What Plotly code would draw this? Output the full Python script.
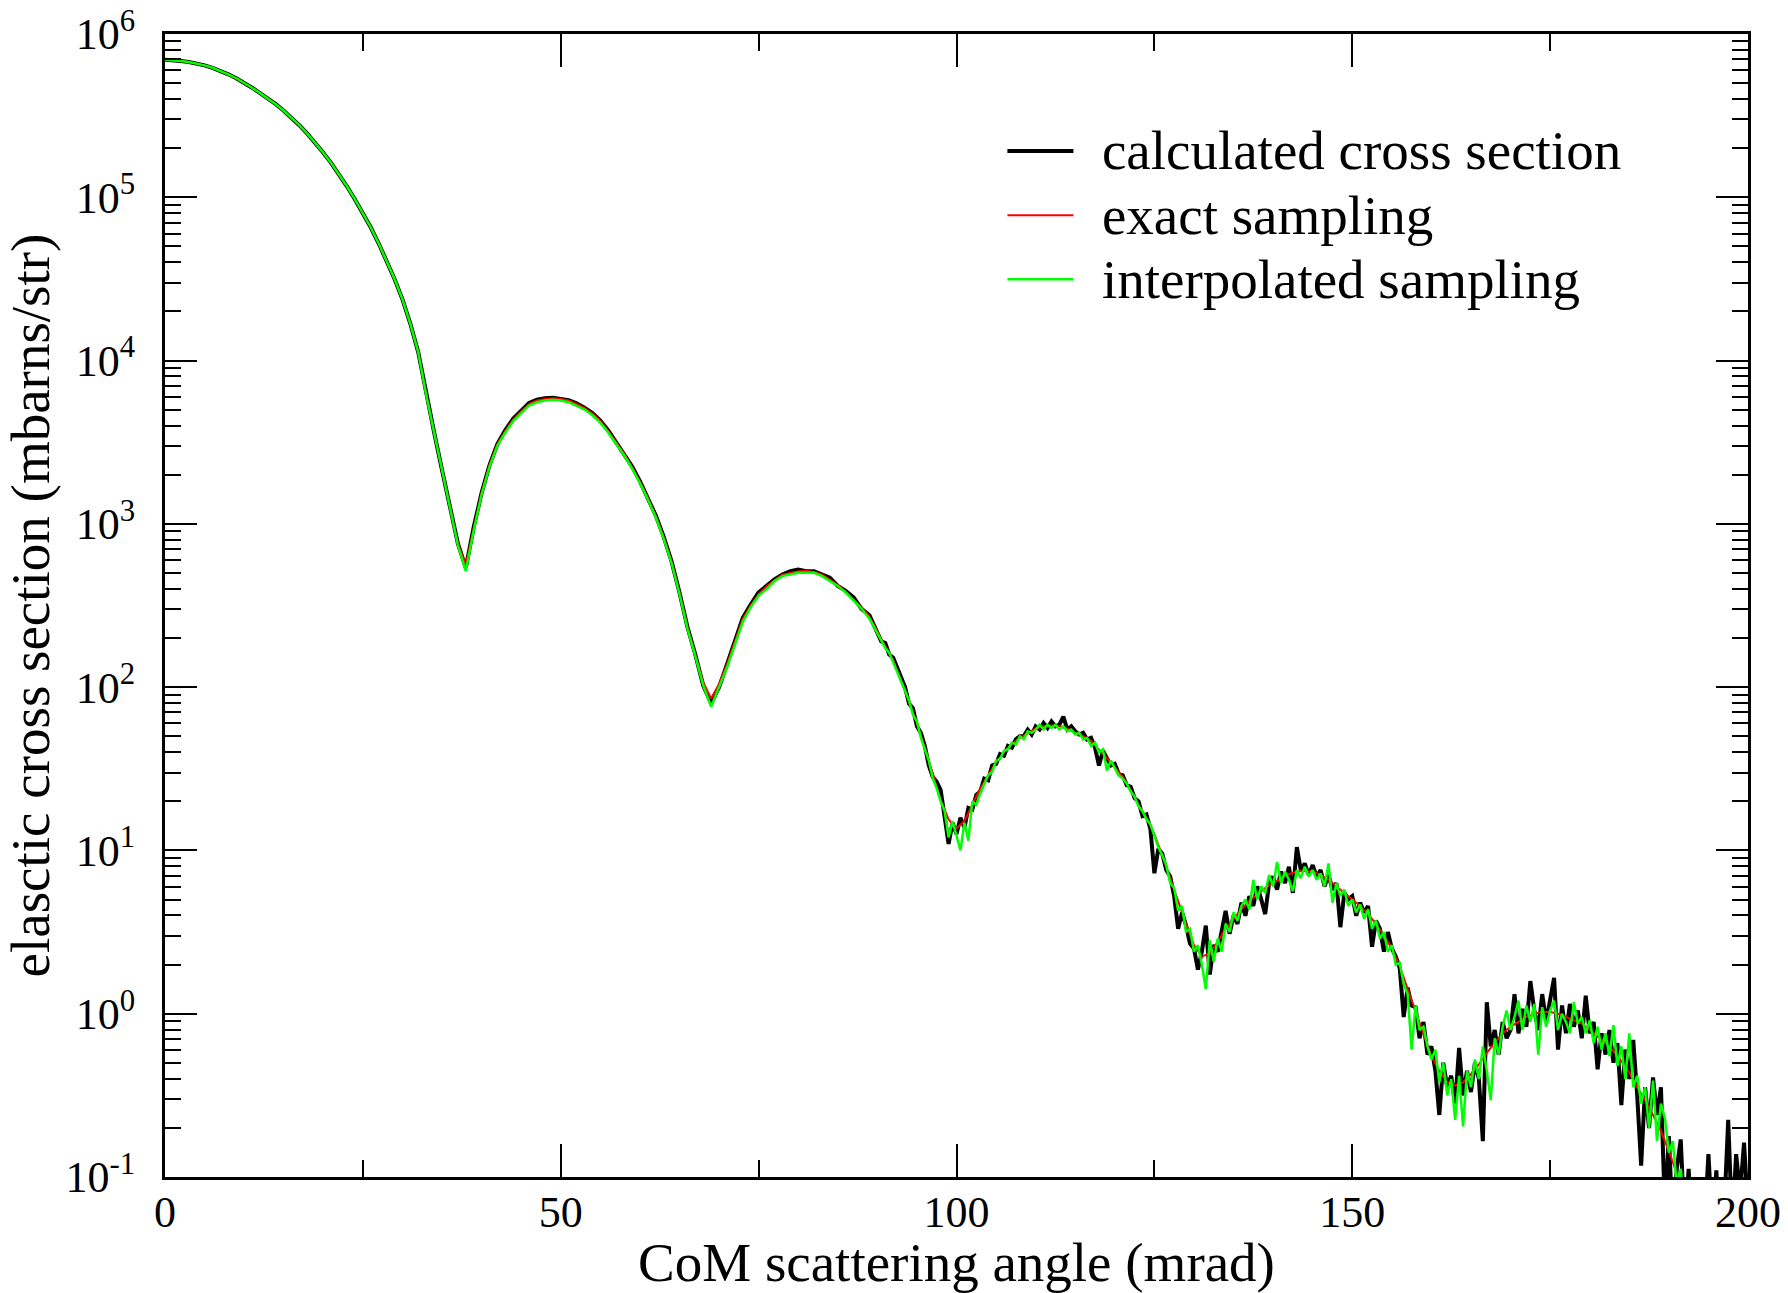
import numpy as np
import plotly.graph_objects as go

# ---------------- data (log10 of cross section, mbarns/str) ----------------
# x positions (mrad)
x_exact = list(range(0, 193))
x_calc = list(range(0, 90)) + [90 + 0.5 * i for i in range(221)]
x_interp = list(range(0, 90)) + [90 + 0.5 * i for i in range(205)]

exact_log10 = [
    5.842, 5.840, 5.835, 5.828, 5.820, 5.808, 5.793, 5.775, 5.753, 5.729,
    5.702, 5.671, 5.638, 5.605, 5.570, 5.530, 5.488, 5.440, 5.388, 5.333,
    5.273, 5.209, 5.140, 5.066, 4.987, 4.905, 4.815, 4.717, 4.612, 4.500,
    4.375, 4.225, 4.050, 3.790, 3.560, 3.330, 3.110, 2.880, 2.750, 2.980,
    3.190, 3.360, 3.490, 3.570, 3.640, 3.690, 3.735, 3.755, 3.765, 3.769,
    3.765, 3.755, 3.735, 3.710, 3.675, 3.630, 3.570, 3.500, 3.430, 3.350,
    3.260, 3.160, 3.050, 2.920, 2.770, 2.580, 2.370, 2.200, 2.030, 1.930,
    2.020, 2.140, 2.280, 2.420, 2.500, 2.570, 2.616, 2.655, 2.688, 2.700,
    2.710, 2.712, 2.705, 2.690, 2.660, 2.625, 2.585, 2.540, 2.490, 2.430,
    2.335, 2.250, 2.167, 2.040, 1.910, 1.780, 1.630, 1.470, 1.310, 1.190,
    1.135, 1.180, 1.280, 1.380, 1.460, 1.540, 1.600, 1.650, 1.690, 1.720,
    1.745, 1.760, 1.765, 1.760, 1.745, 1.720, 1.700, 1.670, 1.620, 1.565,
    1.510, 1.450, 1.370, 1.280, 1.200, 1.100, 0.970, 0.830, 0.680, 0.550,
    0.420, 0.350, 0.370, 0.440, 0.520, 0.580, 0.640, 0.690, 0.730, 0.770,
    0.800, 0.830, 0.855, 0.870, 0.875, 0.870, 0.850, 0.820, 0.780, 0.740,
    0.700, 0.660, 0.610, 0.550, 0.480, 0.400, 0.290, 0.150, 0.020, -0.120,
    -0.260, -0.350, -0.420, -0.440, -0.420, -0.370, -0.310, -0.240, -0.180, -0.120,
    -0.080, -0.050, -0.020, 0.000, 0.010, 0.010, 0.000, -0.020, -0.040, -0.060,
    -0.100, -0.140, -0.180, -0.230, -0.290, -0.360, -0.450, -0.530, -0.620, -0.720,
    -0.840, -0.980, -1.120,
]

calc_log10 = [
    5.842, 5.840, 5.835, 5.828, 5.820, 5.808, 5.793, 5.775, 5.753, 5.729,
    5.702, 5.671, 5.638, 5.605, 5.570, 5.530, 5.488, 5.440, 5.388, 5.333,
    5.273, 5.209, 5.140, 5.066, 4.987, 4.905, 4.815, 4.717, 4.612, 4.500,
    4.375, 4.225, 4.050, 3.790, 3.560, 3.330, 3.110, 2.880, 2.730, 2.980,
    3.190, 3.360, 3.490, 3.575, 3.645, 3.695, 3.740, 3.760, 3.770, 3.772,
    3.768, 3.758, 3.738, 3.712, 3.678, 3.632, 3.572, 3.502, 3.432, 3.352,
    3.262, 3.162, 3.052, 2.922, 2.770, 2.580, 2.370, 2.200, 2.010, 1.900,
    2.000, 2.140, 2.290, 2.425, 2.505, 2.580, 2.620, 2.660, 2.690, 2.710,
    2.720, 2.710, 2.710, 2.690, 2.670, 2.620, 2.590, 2.550, 2.480, 2.440,
    # 90 .. 200 every 0.5 mrad
    2.34, 2.28, 2.27, 2.20, 2.18, 2.12, 2.06, 2.00, 1.90, 1.87,
    1.76, 1.72, 1.64, 1.52, 1.45, 1.42, 1.37, 1.22, 1.04, 1.17,
    1.10, 1.20, 1.14, 1.26, 1.25, 1.34, 1.36, 1.44, 1.43, 1.52,
    1.53, 1.59, 1.58, 1.64, 1.63, 1.68, 1.70, 1.70, 1.74, 1.71,
    1.76, 1.74, 1.78, 1.75, 1.79, 1.76, 1.77, 1.82, 1.74, 1.76,
    1.73, 1.71, 1.72, 1.68, 1.69, 1.63, 1.52, 1.61, 1.57, 1.52,
    1.53, 1.47, 1.46, 1.40, 1.39, 1.32, 1.30, 1.21, 1.22, 1.13,
    0.86, 1.01, 0.98, 0.88, 0.84, 0.72, 0.52, 0.62, 0.54, 0.43,
    0.40, 0.27, 0.38, 0.54, 0.24, 0.42, 0.38, 0.50, 0.63, 0.49,
    0.60, 0.55, 0.68, 0.60, 0.72, 0.66, 0.78, 0.70, 0.61, 0.80,
    0.84, 0.76, 0.87, 0.80, 0.90, 0.74, 1.02, 0.88, 0.92, 0.85,
    0.91, 0.84, 0.88, 0.78, 0.85, 0.76, 0.80, 0.53, 0.74, 0.70,
    0.72, 0.60, 0.68, 0.62, 0.66, 0.41, 0.57, 0.52, 0.38, 0.50,
    0.40, 0.35, 0.28, -0.02, 0.16, 0.05, 0.04, -0.15, -0.05, -0.25,
    -0.20, -0.35, -0.62, -0.30, -0.45, -0.38, -0.55, -0.21, -0.50, -0.35,
    -0.48, -0.30, -0.40, -0.78, 0.07, -0.20, -0.10, -0.25, -0.05, -0.15,
    -0.10, 0.12, -0.12, 0.03, -0.08, 0.20, 0.02, -0.10, 0.12, -0.05,
    0.08, 0.22, -0.22, 0.05, -0.12, 0.06, -0.08, 0.02, -0.15, 0.11,
    -0.12, -0.05, -0.34, -0.12, -0.25, -0.10, -0.30, -0.18, -0.56, -0.22,
    -0.40, -0.16, -0.50, -0.93, -0.45, -0.70, -0.39, -0.62, -0.45, -1.20,
    -0.75, -1.30, -0.95, -0.77, -1.30, -0.95, -1.40, -1.30, -1.40, -1.30,
    -0.86, -1.30, -0.96, -1.40, -1.20, -0.65, -1.30, -0.86, -1.10, -0.79,
    -1.20,
]

interp_log10 = [
    5.842, 5.840, 5.835, 5.828, 5.820, 5.808, 5.793, 5.775, 5.753, 5.729,
    5.702, 5.671, 5.638, 5.605, 5.570, 5.530, 5.488, 5.440, 5.388, 5.333,
    5.273, 5.209, 5.140, 5.066, 4.987, 4.905, 4.815, 4.717, 4.612, 4.500,
    4.375, 4.225, 4.050, 3.790, 3.560, 3.330, 3.110, 2.870, 2.710, 2.960,
    3.180, 3.350, 3.480, 3.560, 3.630, 3.680, 3.725, 3.745, 3.755, 3.760,
    3.755, 3.745, 3.725, 3.700, 3.665, 3.620, 3.560, 3.490, 3.420, 3.340,
    3.250, 3.150, 3.040, 2.910, 2.760, 2.570, 2.360, 2.190, 2.010, 1.880,
    2.000, 2.120, 2.260, 2.400, 2.490, 2.560, 2.600, 2.650, 2.680, 2.690,
    2.700, 2.700, 2.700, 2.680, 2.650, 2.620, 2.580, 2.530, 2.480, 2.420,
    # 90 .. 192 every 0.5 mrad
    2.33, 2.29, 2.24, 2.21, 2.15, 2.10, 2.03, 1.98, 1.92, 1.83,
    1.79, 1.69, 1.62, 1.55, 1.44, 1.38, 1.30, 1.24, 1.08, 1.18,
    1.09, 1.00, 1.17, 1.06, 1.30, 1.28, 1.35, 1.41, 1.46, 1.48,
    1.55, 1.56, 1.61, 1.62, 1.66, 1.65, 1.70, 1.68, 1.73, 1.72,
    1.74, 1.77, 1.74, 1.77, 1.75, 1.77, 1.74, 1.76, 1.73, 1.74,
    1.71, 1.72, 1.68, 1.69, 1.64, 1.66, 1.60, 1.62, 1.49, 1.55,
    1.50, 1.46, 1.44, 1.41, 1.36, 1.33, 1.27, 1.24, 1.19, 1.16,
    1.09, 1.02, 0.97, 0.91, 0.80, 0.77, 0.63, 0.66, 0.50, 0.52,
    0.38, 0.42, 0.30, 0.15, 0.45, 0.32, 0.46, 0.38, 0.55, 0.50,
    0.62, 0.57, 0.66, 0.70, 0.64, 0.82, 0.70, 0.78, 0.74, 0.85,
    0.78, 0.93, 0.80, 0.87, 0.82, 0.75, 0.88, 0.83, 0.90, 0.84,
    0.88, 0.82, 0.86, 0.78, 0.92, 0.68, 0.80, 0.72, 0.76, 0.66,
    0.70, 0.62, 0.67, 0.58, 0.64, 0.52, 0.57, 0.46, 0.50, 0.38,
    0.42, 0.30, 0.31, 0.18, 0.12, -0.22, 0.05, -0.10, -0.08, -0.20,
    -0.28, -0.22, -0.42, -0.30, -0.50, -0.40, -0.65, -0.38, -0.69, -0.35,
    -0.45, -0.28, -0.40, -0.20, -0.35, -0.53, -0.15, -0.25, -0.08, 0.02,
    -0.10, -0.02, 0.08, -0.10, 0.05, -0.05, 0.06, -0.25, 0.04, -0.08,
    0.02, 0.08, -0.10, 0.00, -0.05, -0.12, 0.07, -0.06, -0.02, -0.12,
    -0.04, -0.18, -0.08, -0.22, -0.12, -0.26, -0.07, -0.32, -0.20, -0.40,
    -0.12, -0.45, -0.38, -0.55, -0.45, -0.70, -0.41, -0.78, -0.55, -0.64,
    -0.85, -0.78, -1.05, -0.95, -1.20,
]

series_names = ["calculated cross section", "exact sampling", "interpolated sampling"]

x_tick_vals = [0, 50, 100, 150, 200]
x_tick_text = ["0", "50", "100", "150", "200"]
x_minor_vals = [25, 75, 125, 175]
y_tick_exps = [-1, 0, 1, 2, 3, 4, 5, 6]
y_tick_vals = [10.0 ** e for e in y_tick_exps]
y_tick_text = ["10<sup>%d</sup>" % e for e in y_tick_exps]
y_minor_vals = [k * 10.0 ** e for e in range(-1, 6) for k in range(2, 10)]

# ---------------- figure ----------------
FONT = "Liberation Serif, Times New Roman, serif"
NB = "\u00a0\u00a0"


def legend_label(s):
    return NB + "<span style='font-size:55px'>" + s + "</span>"


fig = go.Figure()
fig.add_trace(go.Scatter(
    x=x_calc, y=np.power(10.0, calc_log10), mode="lines", name=legend_label(series_names[0]),
    line=dict(color="#000000", width=4)))
fig.add_trace(go.Scatter(
    x=x_exact, y=np.power(10.0, exact_log10), mode="lines", name=legend_label(series_names[1]),
    line=dict(color="#ff0000", width=2)))
fig.add_trace(go.Scatter(
    x=x_interp, y=np.power(10.0, interp_log10), mode="lines", name=legend_label(series_names[2]),
    line=dict(color="#00ff00", width=2.5)))

fig.update_layout(
    width=1788, height=1293,
    margin=dict(l=165, r=40, t=34, b=116, autoexpand=False),
    paper_bgcolor="white", plot_bgcolor="white",
    font=dict(family=FONT, color="black", size=44),
    showlegend=True,
    legend=dict(x=0.529, y=0.930, xanchor="left", yanchor="top",
                font=dict(family=FONT, size=47, color="black"),
                bgcolor="rgba(0,0,0,0)", borderwidth=0,
                itemwidth=66, tracegroupgap=0),
)

fig.update_xaxes(
    range=[0, 200], tickmode="array", tickvals=x_tick_vals, ticktext=x_tick_text,
    ticks="inside", ticklen=33, tickwidth=2, tickcolor="black",
    showline=True, linewidth=3, linecolor="black", mirror="allticks",
    showgrid=False, zeroline=False, automargin=False,
    tickfont=dict(family=FONT, size=44, color="black"),
    ticklabelstandoff=-6,
    minor=dict(tickmode="array", tickvals=x_minor_vals, ticks="inside", ticklen=17,
               tickwidth=2, tickcolor="black", showgrid=False),
    title=dict(text="CoM scattering angle (mrad)", standoff=2,
               font=dict(family=FONT, size=55, color="black")),
)

fig.update_yaxes(
    type="log", range=[-1, 6], tickmode="array", tickvals=y_tick_vals, ticktext=y_tick_text,
    ticks="inside", ticklen=32, tickwidth=2, tickcolor="black",
    showline=True, linewidth=3, linecolor="black", mirror="allticks",
    showgrid=False, zeroline=False, automargin=False,
    tickfont=dict(family=FONT, size=44, color="black"),
    ticklabelstandoff=18,
    minor=dict(tickmode="array", tickvals=y_minor_vals, ticks="inside", ticklen=16,
               tickwidth=2, tickcolor="black", showgrid=False),
    title=dict(text="elasctic cross section (mbarns/str)", standoff=0,
               font=dict(family=FONT, size=55, color="black")),
)

fig.write_html("out.html")
